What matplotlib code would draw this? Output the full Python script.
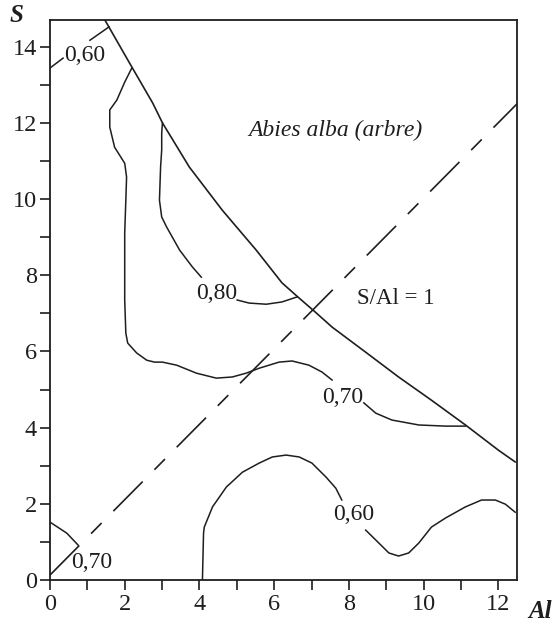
import numpy as np
import matplotlib
matplotlib.use("Agg")
from matplotlib import pyplot as plt

plt.rcParams['font.family'] = ['Liberation Serif', 'DejaVu Serif']

# limite (ligne continue)
limit_x = [1.47, 2.13, 2.75, 3.01, 3.73, 4.61, 5.52, 6.21, 6.67, 7.07, 7.55, 8.45, 9.33, 10.21, 11.12, 12.0, 12.45]
limit_y = [14.7, 13.57, 12.52, 12.0, 10.84, 9.71, 8.66, 7.8, 7.4, 7.06, 6.64, 5.98, 5.33, 4.72, 4.07, 3.41, 3.10]

# isoligne 0,60 en haut a gauche
c60a_x = [0.0, 0.35, np.nan, 1.07, 1.58]
c60a_y = [13.44, 13.7, np.nan, 14.17, 14.52]

# isoligne 0,70 (haut)
c70a_x = [2.19, 2.0, 1.79, 1.6, 1.6, 1.73, 2.0, 2.05, 2.03, 2.0, 2.0, 2.0, 2.03, 2.08, 2.32, 2.59, 2.8, 3.01,
          3.39, 3.92, 4.45, 4.88, 5.25, 5.6, 6.13, 6.48, 6.93, 7.28, 7.55, np.nan,
          8.4, 8.72, 9.15, 9.87, 10.59, 11.12]
c70a_y = [13.44, 13.07, 12.6, 12.34, 11.89, 11.36, 10.94, 10.58, 9.97, 9.11, 8.22, 7.35, 6.48, 6.22, 5.96, 5.77, 5.72, 5.72,
          5.64, 5.43, 5.30, 5.33, 5.43, 5.56, 5.72, 5.75, 5.64, 5.46, 5.25, np.nan,
          4.65, 4.38, 4.2, 4.07, 4.04, 4.04]

# isoligne 0,80
c80_x = [3.01, 2.99, 2.99, 2.96, 2.93, 2.99, 3.12, 3.47, 3.81, 4.05, np.nan, 5.01, 5.33, 5.79, 6.21, 6.61]
c80_y = [12.0, 11.73, 11.29, 10.84, 9.97, 9.53, 9.27, 8.66, 8.22, 7.95, np.nan, 7.35, 7.27, 7.24, 7.3, 7.43]

# isoligne 0,70 en bas a gauche
c70b_x = [0.0, 0.45, 0.75]
c70b_y = [1.52, 1.23, 0.92]

# isoligne 0,60 (bas)
c60b_x = [4.08, 4.11, 4.13, 4.35, 4.72, 5.15, 5.6, 5.95, 6.32, 6.67, 7.01, 7.39, 7.65, 7.81, np.nan,
          8.45, 8.72, 9.07, 9.33, 9.6, 9.87, 10.21, 10.59, 11.12, 11.55, 11.92, 12.19, 12.45]
c60b_y = [0.0, 1.23, 1.39, 1.92, 2.44, 2.83, 3.07, 3.23, 3.28, 3.23, 3.07, 2.70, 2.41, 2.1, np.nan,
          1.31, 1.05, 0.71, 0.63, 0.71, 0.97, 1.39, 1.63, 1.92, 2.1, 2.1, 1.99, 1.78]

# S/Al = 1
diag_x = [0.0, 12.5]
diag_y = [0.13, 12.5]

labels = ["0,60", "0,70", "0,80", "0,70", "0,60"]
label_x = [0.93, 7.84, 4.45, 1.12, 8.13]
label_y = [13.78, 4.8, 7.53, 0.47, 1.71]

col = '#1e1e1e'
fig = plt.figure(figsize=(5.56, 6.28), dpi=100)
ax = fig.add_axes([0.0899, 0.0764, 0.840, 0.8917])

ax.plot(limit_x, limit_y, color=col, lw=1.2)
for xs, ys in [(c60a_x, c60a_y), (c70a_x, c70a_y), (c80_x, c80_y), (c70b_x, c70b_y), (c60b_x, c60b_y)]:
    ax.plot(xs, ys, color=col, lw=1.1)
ax.plot(diag_x, diag_y, color=col, lw=1.2, dashes=(25, 10, 9, 10))

for t, x, y in zip(labels, label_x, label_y):
    ax.text(x, y, t, fontsize=17, ha='center', va='center', color=col)

ax.text(7.65, 11.81, "Abies alba (arbre)", fontsize=17, style='italic', ha='center', va='center', color=col)
ax.text(9.25, 7.4, "S/Al = 1", fontsize=16.5, ha='center', va='center', color=col)

ax.set_xlim(0, 12.5)
ax.set_ylim(0, 14.7)
ax.set_xticks(range(0, 13, 2))
ax.set_xticks(range(1, 13, 2), minor=True)
ax.set_yticks(range(0, 15, 2))
ax.set_yticks(range(1, 15, 2), minor=True)
ax.tick_params(which='both', direction='out', length=7.5, width=1.2, color=col, labelsize=17.5, labelcolor=col)
ax.tick_params(axis='x', pad=2.5)
ax.tick_params(axis='y', pad=2)
for s in ax.spines.values():
    s.set_linewidth(1.3)
    s.set_color(col)

fig.text(16 / 556, 1 - 16 / 628, "S", fontsize=18, weight='bold', style='italic', ha='center', va='center', color=col)
fig.text(540 / 556, 1 - 612 / 628, "Al", fontsize=18, weight='bold', style='italic', ha='center', va='center', color=col)

fig.savefig("out.png", dpi=100)
